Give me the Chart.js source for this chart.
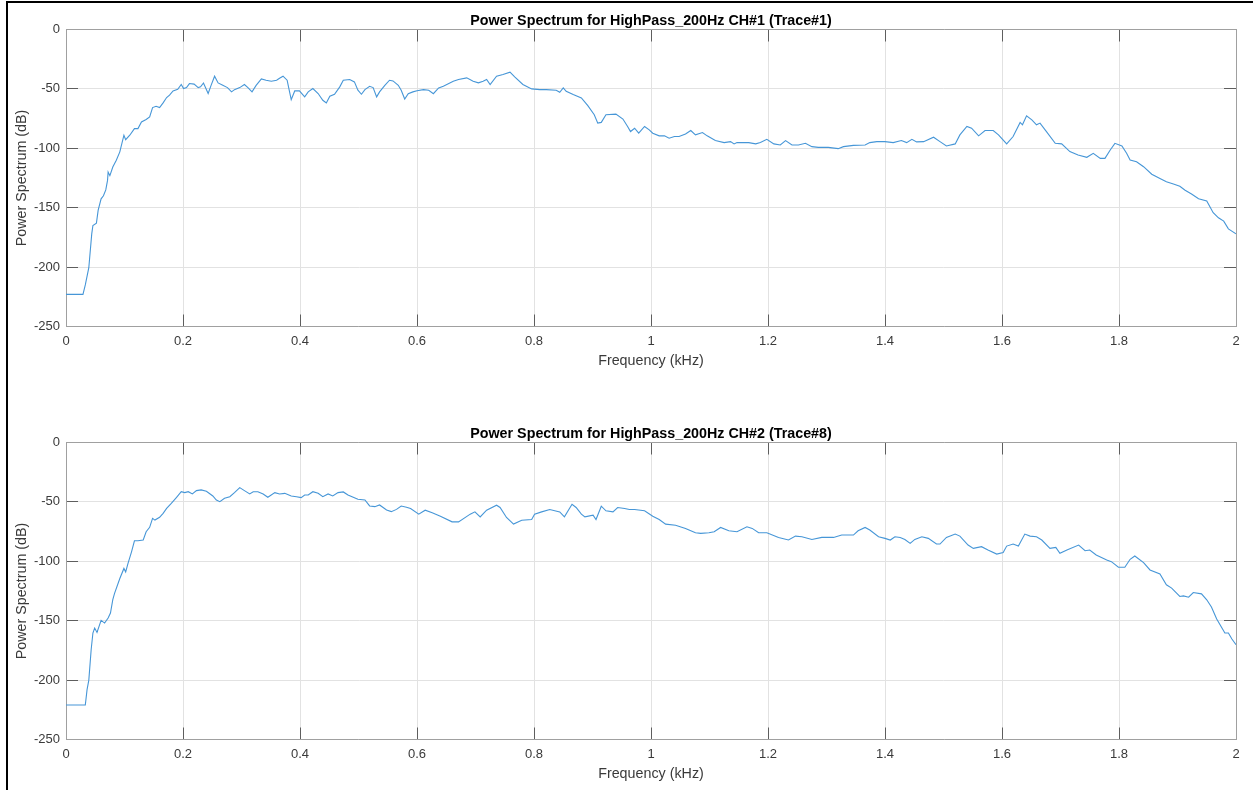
<!DOCTYPE html>
<html>
<head>
<meta charset="utf-8">
<script src="https://cdn.jsdelivr.net/npm/chart.js@4.4.1/dist/chart.umd.min.js"></script>
<style>
  html, body { margin: 0; padding: 0; background: #fff; }
  body { width: 1253px; height: 790px; position: relative; overflow: hidden; }
  canvas { position: absolute; left: 0; }
  #frame { position: absolute; left: 6px; top: 1px; width: 1260px; height: 800px;
           border-left: 2px solid #000; border-top: 2px solid #000; pointer-events: none; }
</style>
</head>
<body>
<canvas id="c1" width="1253" height="413" style="top:0px"></canvas>
<canvas id="c2" width="1253" height="377" style="top:413px"></canvas>
<div id="frame"></div>
<script>
// ---- Data ----
const titleCh1 = 'Power Spectrum for HighPass_200Hz CH#1 (Trace#1)';
const titleCh2 = 'Power Spectrum for HighPass_200Hz CH#2 (Trace#8)';
const xAxisTitle = 'Frequency (kHz)';
const yAxisTitle = 'Power Spectrum (dB)';
const xRange = [0, 2];
const xStep = 0.2;
const yRange = [-250, 0];
const yStep = 50;

const freqCh1 = [0,0.029,0.033,0.039,0.044,0.046,0.052,0.055,0.060,0.064,0.068,0.071,0.072,0.075,0.080,0.086,0.092,0.099,0.102,0.109,0.117,0.123,0.129,0.137,0.143,0.148,0.154,0.160,0.166,0.172,0.177,0.183,0.191,0.197,0.201,0.206,0.211,0.219,0.226,0.230,0.235,0.243,0.248,0.254,0.260,0.268,0.276,0.283,0.288,0.297,0.305,0.311,0.318,0.325,0.334,0.342,0.351,0.360,0.365,0.371,0.378,0.381,0.385,0.391,0.399,0.408,0.414,0.422,0.431,0.439,0.445,0.451,0.459,0.468,0.474,0.485,0.493,0.499,0.505,0.511,0.519,0.525,0.531,0.536,0.545,0.553,0.559,0.568,0.573,0.579,0.585,0.593,0.600,0.611,0.620,0.628,0.637,0.645,0.662,0.671,0.685,0.696,0.705,0.713,0.719,0.725,0.736,0.747,0.759,0.767,0.781,0.796,0.810,0.821,0.838,0.844,0.850,0.855,0.867,0.881,0.892,0.903,0.909,0.915,0.923,0.940,0.952,0.960,0.965,0.972,0.979,0.989,0.997,1.003,1.014,1.023,1.031,1.040,1.048,1.059,1.068,1.076,1.088,1.096,1.110,1.125,1.136,1.142,1.147,1.167,1.179,1.187,1.198,1.210,1.221,1.230,1.241,1.252,1.264,1.275,1.286,1.303,1.320,1.329,1.346,1.366,1.374,1.386,1.400,1.414,1.428,1.437,1.446,1.454,1.466,1.483,1.494,1.505,1.520,1.528,1.540,1.548,1.560,1.571,1.585,1.594,1.608,1.619,1.631,1.635,1.642,1.651,1.659,1.665,1.676,1.691,1.702,1.716,1.730,1.745,1.756,1.768,1.776,1.785,1.793,1.805,1.813,1.819,1.830,1.842,1.856,1.870,1.881,1.893,1.904,1.913,1.924,1.936,1.950,1.961,1.970,1.979,1.987,2.000];
const powerCh1 = [-223,-223,-215,-200.5,-172,-165,-163,-152,-142.5,-140,-135,-127,-120,-123,-115.7,-110,-103,-89,-92.7,-89,-83.4,-83.4,-77.8,-75.8,-73.6,-65.7,-64.6,-65.7,-61.8,-57.3,-55.3,-51.7,-50.3,-46.3,-49.7,-48.9,-45.5,-46,-48.9,-48.3,-45,-53.9,-47,-39.3,-45,-47,-48.9,-52.5,-50.6,-48.9,-46.3,-48.9,-52.5,-47,-41.6,-42.7,-43.5,-42.7,-41,-39.3,-42.7,-49.7,-59,-51.7,-51.7,-56.7,-52.5,-49.7,-53.9,-59.6,-61.8,-56.2,-54.5,-48.3,-42.7,-42.1,-44.1,-51.1,-54.5,-50.6,-47.8,-48.9,-56.7,-52.5,-47,-42.7,-43.3,-47,-51.1,-58.5,-54,-52.5,-51.5,-50.6,-51.1,-54,-49.2,-47.7,-43.5,-42.1,-40.7,-43.5,-44.9,-43.5,-42.1,-46.3,-39.3,-37.9,-35.9,-39.8,-46.3,-50,-50.6,-50.6,-51.1,-52.8,-49.2,-52,-54.8,-57.6,-64.1,-71.8,-78.8,-78.2,-71.8,-71.2,-75.4,-81.6,-85.9,-83.1,-87.3,-81.6,-84.5,-87.3,-89.5,-89.5,-91.5,-90.1,-90.1,-87.9,-85,-88.7,-86.7,-89.5,-93.5,-95.2,-94.4,-96.3,-95.2,-95.2,-96.3,-95.2,-92.4,-96.3,-97.2,-93.5,-97.2,-97.2,-95.8,-98.6,-99.2,-99.2,-100.3,-98.6,-97.5,-97.2,-95.2,-94.4,-94.4,-95.2,-93.5,-95.2,-92.4,-94.6,-94.4,-90.7,-94.4,-98,-96.3,-88.7,-81.6,-83.1,-89.5,-85,-85,-88.7,-96.3,-90.1,-78.2,-80.2,-72.6,-76,-80.2,-78.8,-85.9,-95.8,-96.3,-102.8,-105.6,-107.6,-104.2,-108.5,-108.5,-101.4,-95.8,-98,-104.2,-109.9,-111.3,-115.5,-121.8,-125.4,-128.2,-130,-131.9,-135.3,-138.5,-142.4,-144.4,-154.2,-158.5,-161.3,-167.8,-172];

const freqCh2 = [0,0.033,0.036,0.039,0.043,0.046,0.049,0.053,0.060,0.066,0.072,0.076,0.080,0.083,0.092,0.099,0.102,0.106,0.112,0.117,0.123,0.132,0.137,0.143,0.148,0.152,0.160,0.166,0.172,0.180,0.189,0.197,0.203,0.209,0.216,0.223,0.231,0.240,0.251,0.257,0.263,0.271,0.280,0.288,0.297,0.305,0.314,0.320,0.328,0.337,0.345,0.357,0.365,0.374,0.385,0.394,0.402,0.408,0.414,0.422,0.431,0.439,0.448,0.456,0.465,0.474,0.482,0.491,0.499,0.511,0.519,0.528,0.536,0.548,0.556,0.565,0.573,0.582,0.589,0.603,0.614,0.626,0.640,0.660,0.671,0.691,0.699,0.708,0.719,0.736,0.742,0.753,0.765,0.779,0.796,0.801,0.813,0.827,0.844,0.852,0.865,0.872,0.881,0.887,0.901,0.906,0.915,0.923,0.935,0.943,0.955,0.963,0.972,0.989,1.003,1.014,1.025,1.042,1.059,1.076,1.085,1.099,1.108,1.119,1.133,1.147,1.164,1.173,1.184,1.198,1.218,1.235,1.247,1.258,1.275,1.292,1.312,1.326,1.346,1.354,1.366,1.374,1.389,1.400,1.409,1.417,1.426,1.434,1.443,1.451,1.463,1.474,1.488,1.494,1.505,1.520,1.528,1.542,1.551,1.565,1.576,1.591,1.602,1.608,1.619,1.628,1.639,1.648,1.659,1.668,1.682,1.692,1.699,1.711,1.731,1.742,1.750,1.761,1.779,1.787,1.799,1.810,1.819,1.827,1.842,1.853,1.870,1.881,1.890,1.904,1.910,1.919,1.927,1.941,1.950,1.958,1.967,1.976,1.981,1.987,1.993,2.000];
const powerCh2 = [-221,-221,-208,-200,-174.5,-160.4,-156.2,-159.9,-149.7,-152,-147.7,-143.5,-132.3,-127,-114.5,-106,-108.9,-101.8,-92,-82.7,-82.7,-82.1,-75.1,-71.4,-63.9,-65.3,-63,-59.6,-55.4,-51.2,-46.1,-41.4,-42.2,-41.4,-43.3,-40.5,-39.9,-41.1,-45,-48.4,-49.8,-47,-45.6,-42.2,-38,-40.5,-43.3,-41.4,-41.4,-43.3,-46.1,-42.2,-43.3,-42.8,-45,-45.6,-46.4,-44.2,-44.2,-41.4,-42.8,-45.6,-43.3,-45,-42.2,-41.6,-44.2,-46.1,-47.8,-48.4,-53.4,-54,-52.6,-56.8,-58.2,-56.3,-53.5,-54.5,-55.6,-60.3,-57,-59.2,-62,-66.8,-66.8,-60.3,-58.4,-62.6,-57,-52.8,-54.7,-63.1,-68.7,-65.4,-64.8,-60.3,-58.4,-56.4,-58.4,-62.6,-52,-54.7,-60.3,-62.6,-61.2,-64.8,-53.6,-57.5,-58.4,-54.7,-55.6,-56.4,-56.4,-57.5,-62,-64.8,-68.7,-69.6,-72.3,-76,-76.5,-76,-75.1,-71.5,-74.3,-75.1,-70.9,-72.3,-76,-76,-79.9,-82.1,-78.8,-79.3,-81.6,-79.9,-79.9,-77.9,-77.9,-74.3,-71.5,-73.7,-79.3,-80.7,-82.1,-79.3,-79.9,-81.6,-84.9,-81.6,-79.3,-80.7,-85.5,-85.5,-79.9,-77.1,-78.8,-86.3,-89.1,-87.7,-90.5,-93.9,-92.7,-87.2,-85.5,-87.2,-77.1,-78.8,-79.3,-82.1,-89.1,-88.3,-93.3,-90.5,-86.3,-91.1,-90.5,-94.7,-98.9,-100.3,-105,-105,-98.3,-95.5,-101.1,-107.3,-110.6,-119.8,-122.6,-129.6,-129.1,-130.2,-126.3,-127.4,-132.4,-138.5,-148.5,-156.2,-160.4,-160.4,-165.4,-170.2];

// ---- Styling ----
const FONT = '"Liberation Sans", Arial, Helvetica, sans-serif';
const LINE_COLOR = '#4696d7';
const GRID_COLOR = '#e2e2e2';
const BOX_COLOR = '#a0a0a0';
const TICK_COLOR = '#5e5e5e';
const TEXT_COLOR = '#3a3a3a';

const PLOT_TOP = 29.5;      // height of top (title) band
const PLOT_LEFT = 66;       // width of left axis band
const PLOT_RIGHT_BAND = 17; // width of right axis band
const PLOT_BOTTOM = 326.5;  // bottom of plot area inside each canvas
const XBAND = 50;           // height of bottom axis band

function fmtX(v) { return String(Number(v.toFixed(1))); }
function noPad(s) { s.paddingLeft = 0; s.paddingRight = 0; s.paddingTop = 0; s.paddingBottom = 0; }

function makeChart(id, title, freqs, powers) {
  const canvas = document.getElementById(id);
  const H = canvas.height;
  const pts = freqs.map((f, i) => ({ x: f, y: powers[i] }));
  const inTick = { drawTicks: true, tickLength: -12, tickColor: TICK_COLOR, tickWidth: 1 };
  return new Chart(canvas, {
    type: 'line',
    data: { datasets: [{ data: pts, borderColor: LINE_COLOR, borderWidth: 1.1,
                         pointRadius: 0, tension: 0, fill: false }] },
    options: {
      responsive: false, animation: false, devicePixelRatio: 1,
      layout: { padding: { top: 0, left: 0, right: 0, bottom: H - PLOT_BOTTOM - XBAND } },
      plugins: { legend: { display: false }, tooltip: { enabled: false }, title: { display: false } },
      scales: {
        x: {
          type: 'linear', position: 'bottom', min: xRange[0], max: xRange[1],
          afterFit: s => { s.height = XBAND; noPad(s); },
          ticks: { stepSize: xStep, callback: fmtX, color: TEXT_COLOR, padding: 19,
                   font: { family: FONT, size: 13 }, maxRotation: 0, autoSkip: false },
          grid: Object.assign({ color: GRID_COLOR, lineWidth: 1 }, inTick),
          border: { display: true, color: BOX_COLOR, width: 1 },
          title: { display: true, text: xAxisTitle, color: TEXT_COLOR,
                   font: { family: FONT, size: 14.3 }, padding: { top: 0, bottom: 7 } }
        },
        x2: {
          type: 'linear', position: 'top', min: xRange[0], max: xRange[1],
          afterFit: s => { s.height = PLOT_TOP; noPad(s); },
          ticks: { stepSize: xStep, display: false },
          grid: Object.assign({ drawOnChartArea: false, color: GRID_COLOR }, inTick),
          border: { display: true, color: BOX_COLOR, width: 1 },
          title: { display: true, text: title, color: '#000',
                   font: { family: FONT, size: 14.3, weight: 'bold' }, padding: { top: 12.1, bottom: 0 } }
        },
        y: {
          type: 'linear', position: 'left', min: yRange[0], max: yRange[1],
          afterFit: s => { s.width = PLOT_LEFT; noPad(s); },
          ticks: { stepSize: yStep, color: TEXT_COLOR, padding: 18,
                   font: { family: FONT, size: 13 } },
          grid: Object.assign({ color: GRID_COLOR, lineWidth: 1 }, inTick),
          border: { display: true, color: BOX_COLOR, width: 1 },
          title: { display: true, text: yAxisTitle, color: TEXT_COLOR,
                   font: { family: FONT, size: 14.3 }, padding: { top: 13.8, bottom: 0 } }
        },
        y2: {
          type: 'linear', position: 'right', min: yRange[0], max: yRange[1],
          afterFit: s => { s.width = PLOT_RIGHT_BAND; noPad(s); },
          ticks: { stepSize: yStep, display: false },
          grid: Object.assign({ drawOnChartArea: false, color: GRID_COLOR }, inTick),
          border: { display: true, color: BOX_COLOR, width: 1 }
        }
      }
    }
  });
}

makeChart('c1', titleCh1, freqCh1, powerCh1);
makeChart('c2', titleCh2, freqCh2, powerCh2);
</script>
</body>
</html>
